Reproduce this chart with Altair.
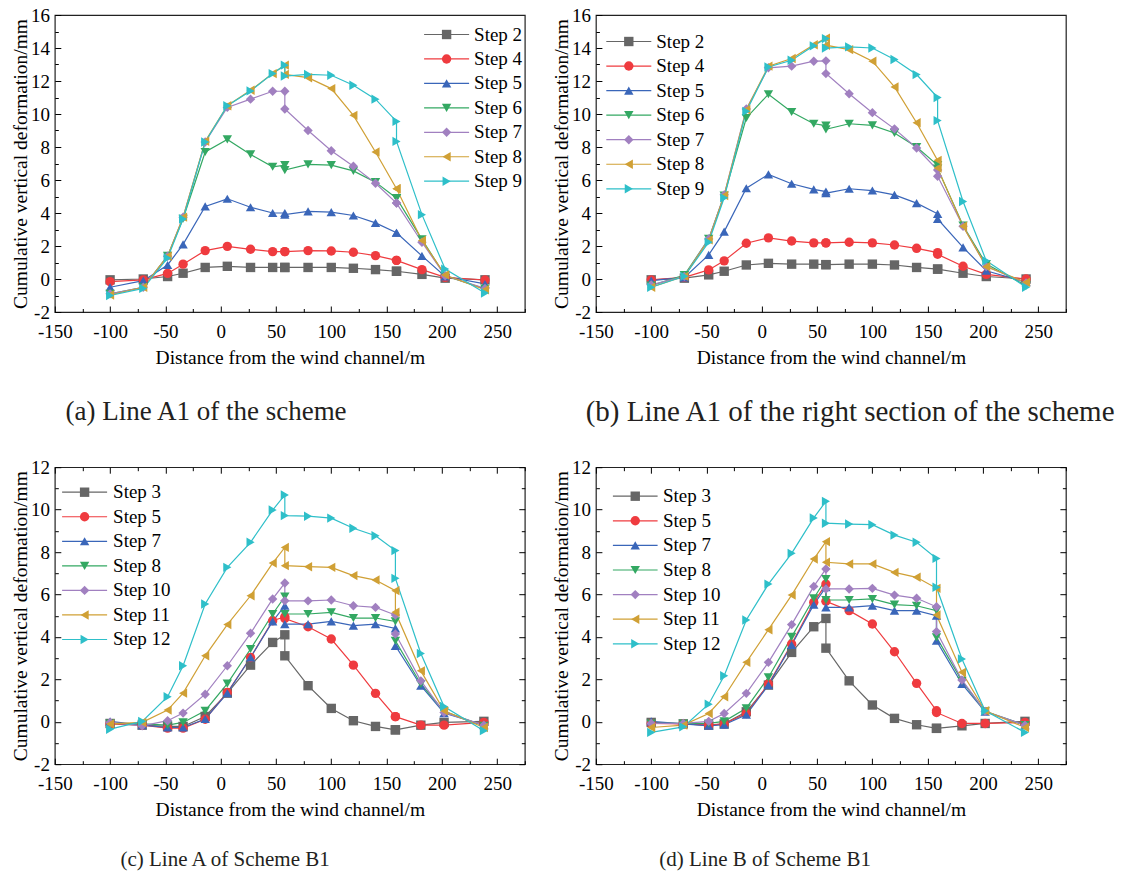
import altair as alt
import pandas as pd

FONT = "Liberation Serif"

# ---------------- data ----------------
X_AB = [-100, -70, -48, -34, -14, 6, 27, 47, 58, 58, 79, 100, 120, 140, 159, 159, 182, 203, 239]
X_CD = [-100, -71, -48, -34, -14, 6, 27, 47, 58, 58, 79, 100, 120, 140, 158, 158, 181, 202, 238]

STEPS_AB = ["Step 2", "Step 4", "Step 5", "Step 6", "Step 7", "Step 8", "Step 9"]
STEPS_CD = ["Step 3", "Step 5", "Step 7", "Step 8", "Step 10", "Step 11", "Step 12"]

# (a) Line A1 of the scheme
A_S2 = [-0.05, 0.0, 0.15, 0.35, 0.7, 0.77, 0.7, 0.7, 0.7, 0.7, 0.7, 0.7, 0.65, 0.57, 0.47, 0.47, 0.28, 0.05, -0.05]
A_S4 = [-0.16, -0.05, 0.34, 0.9, 1.72, 1.98, 1.8, 1.66, 1.66, 1.66, 1.72, 1.7, 1.62, 1.42, 1.13, 1.13, 0.57, 0.1, -0.06]
A_S5 = [-0.5, -0.1, 0.85, 2.1, 4.4, 4.86, 4.35, 4.0, 4.0, 3.9, 4.1, 4.05, 3.85, 3.4, 2.8, 2.8, 1.4, 0.15, -0.3]
A_S6 = [-0.9, -0.5, 1.4, 3.65, 7.7, 8.46, 7.55, 6.8, 6.9, 6.6, 6.95, 6.9, 6.55, 5.87, 4.9, 4.9, 2.4, 0.2, -0.6]
A_S7 = [-0.9, -0.5, 1.38, 3.75, 8.3, 10.4, 10.9, 11.38, 11.38, 10.3, 9.0, 7.77, 6.84, 5.8, 4.6, 4.6, 2.23, 0.2, -0.57]
A_S8 = [-0.97, -0.5, 1.38, 3.75, 8.35, 10.5, 11.44, 12.45, 12.96, 12.4, 12.2, 11.54, 9.92, 7.7, 5.47, 5.47, 2.33, 0.24, -0.65]
A_S9 = [-1.0, -0.57, 1.27, 3.64, 8.3, 10.5, 11.4, 12.45, 12.96, 12.3, 12.4, 12.35, 11.74, 10.9, 9.55, 8.34, 3.9, 0.6, -0.85]

# (b) Line A1 of the right section of the scheme
B_S2 = [-0.05, 0.05, 0.25, 0.47, 0.85, 0.95, 0.9, 0.9, 0.87, 0.87, 0.9, 0.9, 0.85, 0.7, 0.6, 0.6, 0.35, 0.15, 0.0]
B_S4 = [-0.05, 0.1, 0.55, 1.1, 2.17, 2.49, 2.3, 2.19, 2.19, 2.19, 2.23, 2.19, 2.06, 1.86, 1.6, 1.5, 0.77, 0.28, 0.0]
B_S5 = [-0.1, 0.1, 1.46, 2.87, 5.5, 6.34, 5.77, 5.43, 5.3, 5.2, 5.47, 5.36, 5.1, 4.6, 3.95, 3.64, 1.92, 0.5, -0.2]
B_S6 = [-0.4, 0.24, 2.43, 5.06, 9.76, 11.2, 10.12, 9.41, 9.3, 9.07, 9.41, 9.31, 8.85, 8.0, 6.9, 6.7, 3.24, 0.9, -0.4]
B_S7 = [-0.36, 0.16, 2.43, 5.1, 10.3, 12.8, 12.9, 13.2, 13.22, 12.45, 11.23, 10.08, 9.1, 7.94, 6.6, 6.23, 3.2, 0.75, -0.24]
B_S8 = [-0.5, 0.16, 2.37, 5.06, 10.26, 12.9, 13.36, 14.2, 14.6, 14.17, 13.9, 13.2, 11.64, 9.47, 7.19, 6.72, 3.2, 0.75, -0.2]
B_S9 = [-0.5, 0.16, 2.23, 4.92, 10.16, 12.85, 13.26, 14.13, 14.57, 14.0, 14.07, 14.0, 13.3, 12.39, 11.0, 9.6, 4.7, 1.1, -0.5]

# (c) Line A of Scheme B1
C_S3 = [-0.08, -0.16, -0.22, -0.22, 0.25, 1.35, 2.67, 3.74, 4.1, 3.11, 1.7, 0.63, 0.05, -0.22, -0.38, -0.38, -0.16, -0.03, 0.02]
C_S5 = [-0.1, -0.16, -0.3, -0.3, 0.12, 1.38, 3.03, 4.76, 4.95, 4.87, 4.48, 3.9, 2.67, 1.34, 0.24, 0.24, -0.16, -0.16, -0.03]
C_S7 = [0.02, -0.16, -0.27, -0.27, 0.13, 1.35, 3.03, 4.73, 5.47, 4.6, 4.6, 4.73, 4.53, 4.6, 4.4, 3.58, 1.7, 0.41, -0.16]
C_S8 = [-0.08, -0.1, -0.16, -0.03, 0.52, 1.8, 3.43, 5.08, 5.9, 5.08, 5.08, 5.16, 4.89, 4.89, 4.73, 3.82, 1.78, 0.49, -0.19]
C_S10 = [-0.03, -0.19, 0.05, 0.41, 1.3, 2.64, 4.17, 5.79, 6.54, 5.7, 5.7, 5.74, 5.47, 5.39, 5.03, 4.14, 1.93, 0.44, -0.16]
C_S11 = [-0.1, -0.03, 0.55, 1.35, 3.11, 4.58, 5.94, 7.48, 8.22, 7.36, 7.31, 7.28, 6.89, 6.68, 6.18, 5.16, 2.4, 0.52, -0.27]
C_S12 = [-0.35, 0.02, 1.18, 2.64, 5.55, 7.28, 8.46, 9.98, 10.69, 9.72, 9.69, 9.6, 9.12, 8.77, 8.07, 6.76, 3.22, 0.72, -0.42]

# (d) Line B of Scheme B1
D_S3 = [-0.03, -0.1, -0.16, -0.1, 0.47, 1.73, 3.27, 4.48, 4.87, 3.47, 1.93, 0.79, 0.16, -0.14, -0.31, -0.31, -0.19, -0.08, 0.02]
D_S5 = [-0.08, -0.1, -0.16, -0.1, 0.39, 1.78, 3.66, 5.63, 6.49, 5.68, 5.24, 4.61, 3.3, 1.81, 0.52, 0.44, -0.08, -0.08, -0.03]
D_S7 = [0.02, -0.1, -0.19, -0.14, 0.33, 1.73, 3.62, 5.52, 6.34, 5.39, 5.39, 5.47, 5.24, 5.24, 5.0, 3.82, 1.78, 0.47, -0.16]
D_S8 = [-0.08, -0.08, -0.08, 0.02, 0.64, 2.09, 4.0, 5.82, 6.73, 5.74, 5.74, 5.79, 5.52, 5.47, 5.24, 3.98, 1.93, 0.49, -0.16]
D_S10 = [-0.08, -0.08, 0.02, 0.39, 1.34, 2.8, 4.58, 6.38, 7.2, 6.26, 6.26, 6.29, 5.97, 5.82, 5.42, 4.25, 1.97, 0.49, -0.16]
D_S11 = [-0.27, -0.16, 0.39, 1.18, 2.8, 4.34, 5.97, 7.67, 8.49, 7.52, 7.44, 7.44, 7.04, 6.81, 6.29, 5.03, 2.33, 0.52, -0.27]
D_S12 = [-0.5, -0.24, 0.83, 2.17, 4.8, 6.49, 7.94, 9.61, 10.39, 9.36, 9.32, 9.29, 8.8, 8.46, 7.7, 6.34, 2.96, 0.52, -0.5]

CAPTIONS = ["(a) Line A1 of the scheme",
            "(b) Line A1 of the right section of the scheme",
            "(c) Line A of Scheme B1",
            "(d) Line B of Scheme B1"]
X_TITLE = "Distance from the wind channel/m"
Y_TITLE = "Cumulative vertical deformation/mm"

# ---------------- styles ----------------
COLORS = ["#666666", "#EF3B3F", "#3A66B9", "#33A862", "#A180C0", "#D0A035", "#2EBFC9"]
SHAPES = ["square", "circle", "triangle-up", "triangle-down", "diamond", "triangle-left", "triangle-right"]
W, H = 470, 297
MSIZE = 88
TICK_MAJ, TICK_MIN = 6, 3.5
LABEL_SIZE, TITLE_SIZE, LEG_SIZE = 19, 19.5, 19


def ax(orient, values, size, labels=False, title=None, lpad=7, tpad=4):
    kw = dict(orient=orient, values=values, tickSize={"expr": str(-size)},
              tickColor="black", tickWidth=1, domain=False, grid=False, labels=labels)
    if labels:
        kw.update(labelFont=FONT, labelFontSize=LABEL_SIZE, labelColor="black", labelPadding=lpad,
                  labelFlush=False, labelOverlap=False,
                  labelExpr="toString(datum.value)",
                  title=title, titleFont=FONT, titleFontSize=TITLE_SIZE, titleFontWeight="normal",
                  titleColor="black", titlePadding=tpad)
    else:
        kw["title"] = None
    return alt.Axis(**kw)


def panel(xs, names, series, ymax, leg, cap, cap_pos, cap_size, mirror):
    rows = []
    for n, v in zip(names, series):
        for i, (x, y) in enumerate(zip(xs, v)):
            rows.append({"x": x, "y": y, "series": n, "idx": i})
    df = pd.DataFrame(rows)

    xsc = alt.Scale(domain=[-150, 275], nice=False, zero=False)
    ysc = alt.Scale(domain=[-2, ymax], nice=False, zero=False)
    col = alt.Color("series:N", scale=alt.Scale(domain=names, range=COLORS), legend=None)
    shp = alt.Shape("series:N", scale=alt.Scale(domain=names, range=SHAPES), legend=None)

    xmaj = list(range(-150, 251, 50))
    xmin = list(range(-125, 276, 50))
    ymaj = list(range(-2, ymax + 1, 2))
    ymin = list(range(-1, ymax, 2))

    base = alt.Chart(df)
    line = base.mark_line(strokeWidth=1.2).encode(
        x=alt.X("x:Q", scale=xsc, axis=ax("bottom", xmaj, TICK_MAJ, True, X_TITLE, TICK_MAJ + 10.5, 7)),
        y=alt.Y("y:Q", scale=ysc, axis=ax("left", ymaj, TICK_MAJ, True, Y_TITLE, TICK_MAJ + 5.4, 0)),
        color=col, order="idx:Q")
    pts = base.mark_point(filled=True, opacity=1, size=MSIZE).encode(
        x=alt.X("x:Q", scale=xsc, axis=ax("bottom", xmin, TICK_MIN)),
        y=alt.Y("y:Q", scale=ysc, axis=ax("left", ymin, TICK_MIN)),
        color=col, shape=shp)
    layers = [line, pts]
    if mirror:
        g1 = base.mark_point(opacity=0).encode(
            x=alt.X("x:Q", scale=xsc, axis=ax("top", xmaj, TICK_MAJ)),
            y=alt.Y("y:Q", scale=ysc, axis=ax("right", ymaj, TICK_MAJ)))
        g2 = base.mark_point(opacity=0).encode(
            x=alt.X("x:Q", scale=xsc, axis=ax("top", xmin, TICK_MIN)),
            y=alt.Y("y:Q", scale=ysc, axis=ax("right", ymin, TICK_MIN)))
        layers += [g1, g2]

    leg_df = pd.DataFrame({"series": names})
    ly = alt.Y("series:N", scale=alt.Scale(type="point", domain=names,
                                            range=[leg[0], leg[1]], padding=0), axis=None)
    lx1, lx2, ltx = leg[2], leg[3], leg[4]
    lrule = alt.Chart(leg_df).mark_rule(strokeWidth=1.2).encode(
        x=alt.value(lx1), x2=alt.value(lx2), y=ly, color=col)
    lpt = alt.Chart(leg_df).mark_point(filled=True, opacity=1, size=MSIZE).encode(
        x=alt.value((lx1 + lx2) / 2), y=ly, color=col, shape=shp)
    ltxt = alt.Chart(leg_df).mark_text(align="left", baseline="middle", font=FONT,
                                       fontSize=LEG_SIZE, color="black").encode(
        x=alt.value(ltx), y=ly, text="series:N")
    capc = alt.Chart(pd.DataFrame({"t": [cap]})).mark_text(
        align="center", baseline="middle", font=FONT, fontSize=cap_size, color="#231f20").encode(
        x=alt.value(cap_pos[0]), y=alt.value(cap_pos[1]), text="t:N")
    layers += [lrule, lpt, ltxt, capc]

    return (alt.layer(*layers)
            .resolve_scale(y="independent")
            .resolve_axis(x="independent", y="independent")
            .properties(width=W, height=H))


pa = panel(X_AB, STEPS_AB, [A_S2, A_S4, A_S5, A_S6, A_S7, A_S8, A_S9], 16,
           (19.5, 166.2, 369.3, 414.3, 419.3), CAPTIONS[0], (151.3, 396.5), 27, False)
pb = panel(X_AB, STEPS_AB, [B_S2, B_S4, B_S5, B_S6, B_S7, B_S8, B_S9], 16,
           (26.5, 173.8, 10.4, 55.4, 60.4), CAPTIONS[1], (254.2, 396.5), 29, False)
pc = panel(X_CD, STEPS_CD, [C_S3, C_S5, C_S7, C_S8, C_S10, C_S11, C_S12], 12,
           (25.0, 172.3, 7.3, 52.3, 58.3), CAPTIONS[2], (170.3, 393.3), 21, True)
pd_ = panel(X_CD, STEPS_CD, [D_S3, D_S5, D_S7, D_S8, D_S10, D_S11, D_S12], 12,
            (29.0, 176.6, 17.0, 61.7, 67.0), CAPTIONS[3], (169.2, 393.3), 21, True)

chart = (alt.concat(pa, pb, pc, pd_, columns=2, bounds="flush",
                    spacing={"row": 155.2, "column": 71.1})
         .resolve_scale(color="independent", shape="independent")
         .properties(padding={"left": 9.8, "top": 5, "right": 2, "bottom": 2}, background="white")
         .configure_view(stroke="#222222", strokeWidth=1.2))

chart.save("out.html", embed_options={"renderer": "svg", "actions": False})
